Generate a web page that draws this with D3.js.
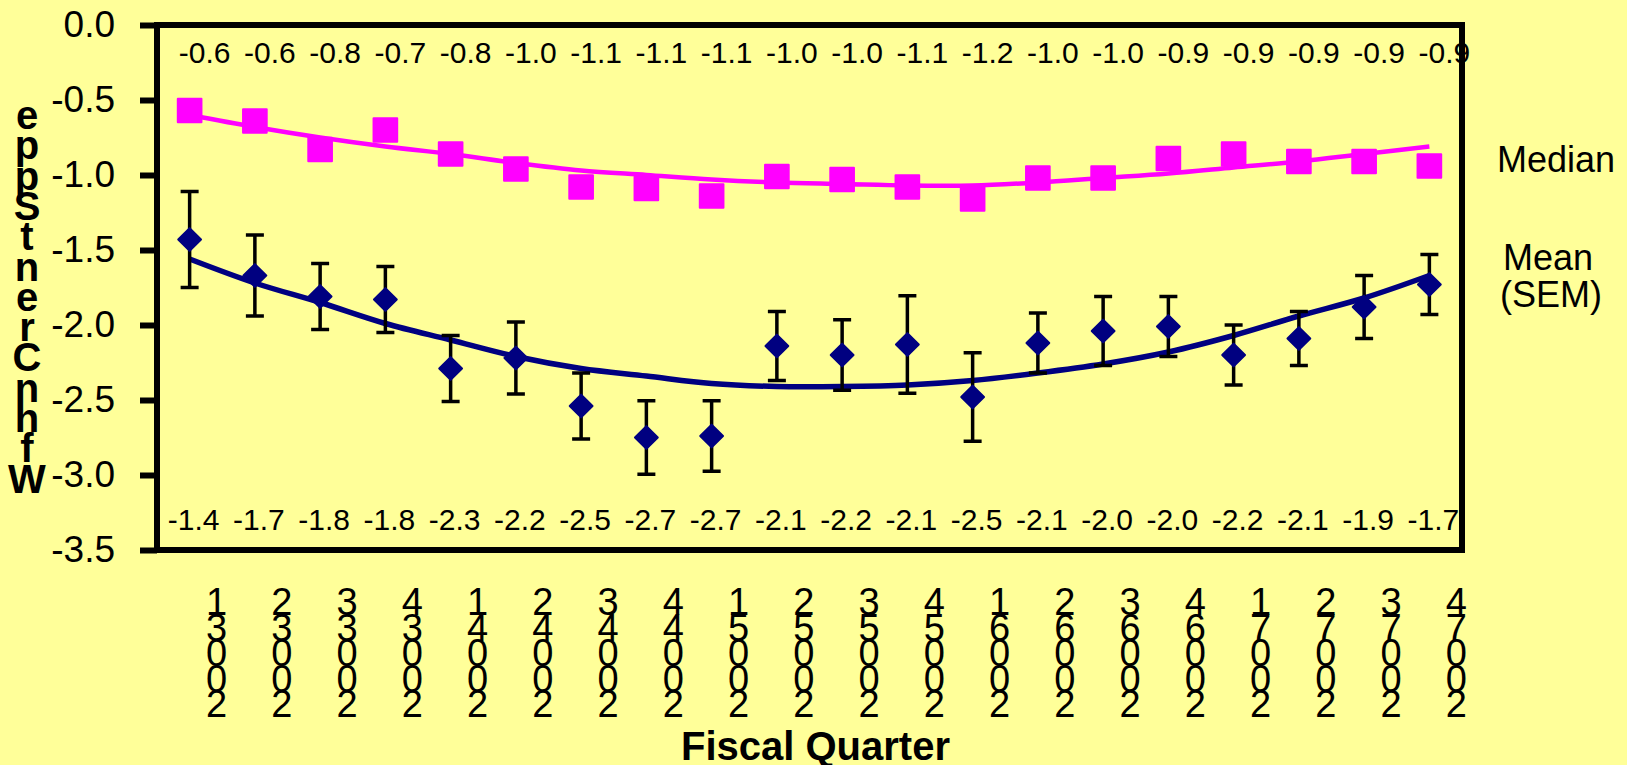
<!DOCTYPE html>
<html>
<head>
<meta charset="utf-8">
<script src="https://cdn.jsdelivr.net/npm/d3@7"></script>
<style>
  html, body { margin: 0; padding: 0; background: #ffff99; }
  svg { display: block; font-family: "Liberation Sans", Arial, sans-serif; }
</style>
</head>
<body>
<div id="chart"></div>
<script>
// stacked x labels, one char per line (as in the original sheet)
var quarterLabels = ["13002", "23002", "33002", "43002", "14002", "24002", "34002", "44002",
                     "15002", "25002", "35002", "45002", "16002", "26002", "36002", "46002",
                     "17002", "27002", "37002", "47002"];

var medianVals = [-0.57, -0.64, -0.83, -0.70, -0.86, -0.96, -1.08, -1.09, -1.14, -1.01,
                  -1.03, -1.08, -1.16, -1.02, -1.02, -0.89, -0.86, -0.91, -0.91, -0.94];
var medianLabels = ["-0.6", "-0.6", "-0.8", "-0.7", "-0.8", "-1.0", "-1.1", "-1.1", "-1.1", "-1.0",
                    "-1.0", "-1.1", "-1.2", "-1.0", "-1.0", "-0.9", "-0.9", "-0.9", "-0.9", "-0.9"];
var medianTrend = [-0.60, -0.68, -0.75, -0.81, -0.86, -0.92, -0.97, -1.00, -1.03, -1.05,
                   -1.06, -1.07, -1.07, -1.05, -1.02, -0.99, -0.95, -0.91, -0.86, -0.81];

var meanVals = [-1.43, -1.67, -1.81, -1.83, -2.29, -2.22, -2.54, -2.75, -2.74, -2.14,
                -2.20, -2.13, -2.48, -2.12, -2.04, -2.01, -2.20, -2.09, -1.88, -1.73];
var meanSem = [0.32, 0.27, 0.22, 0.22, 0.22, 0.24, 0.22, 0.245, 0.235, 0.23,
               0.235, 0.325, 0.295, 0.20, 0.23, 0.20, 0.20, 0.18, 0.21, 0.20];
var meanLabels = ["-1.4", "-1.7", "-1.8", "-1.8", "-2.3", "-2.2", "-2.5", "-2.7", "-2.7", "-2.1",
                  "-2.2", "-2.1", "-2.5", "-2.1", "-2.0", "-2.0", "-2.2", "-2.1", "-1.9", "-1.7"];
var meanTrend = [-1.56, -1.72, -1.85, -1.99, -2.10, -2.21, -2.29, -2.34, -2.39, -2.41,
                 -2.41, -2.40, -2.37, -2.32, -2.26, -2.18, -2.07, -1.94, -1.82, -1.67];

var yTicks = [0, -0.5, -1, -1.5, -2, -2.5, -3, -3.5];
var yTitle = ["e", "p", "p", "S", "t", "n", "e", "r", "C", "n", "h", "f", "W"];

function renderChart(el) {
  var W = 1627, H = 765;
  var margin = {top: 25, right: 165, bottom: 215, left: 157},
      width = W - margin.left - margin.right,
      height = H - margin.top - margin.bottom;

  var svg = d3.select(el).append("svg")
      .attr("width", W)
      .attr("height", H);

  svg.append("rect")
      .attr("width", W).attr("height", H)
      .attr("fill", "#ffff99");

  var g = svg.append("g")
      .attr("transform", "translate(" + margin.left + "," + margin.top + ")");

  var x = d3.scaleBand()
      .domain(d3.range(quarterLabels.length))
      .range([0, width])
      .padding(0);
  var y = d3.scaleLinear()
      .domain([-3.5, 0])
      .range([height, 0]);

  function cx(i) { return x(i) + x.bandwidth() / 2; }

  // y axis ticks
  var yAxis = g.append("g")
      .call(d3.axisLeft(y)
        .tickValues(yTicks)
        .tickSize(17)
        .tickPadding(25)
        .tickFormat(function(d) { return d.toFixed(1); }));
  yAxis.select(".domain").remove();
  yAxis.selectAll(".tick line").attr("stroke", "#000").attr("stroke-width", 6);
  yAxis.selectAll(".tick text")
      .attr("fill", "#000")
      .style("font-size", "37px")
      .style("font-family", "'Liberation Sans', Arial, sans-serif");

  // x labels, stacked characters
  var xl = g.selectAll(".xlab")
      .data(quarterLabels)
    .enter().append("g")
      .attr("class", "xlab")
      .attr("transform", function(d, i) { return "translate(" + (cx(i) + 27) + "," + (height + 65) + ")"; });
  xl.selectAll("text")
      .data(function(d) { return d.split(""); })
    .enter().append("text")
      .attr("y", function(d, j) { return j * 25.5; })
      .attr("text-anchor", "middle")
      .style("font-size", "38px")
      .text(function(d) { return d; });

  // trend lines
  var line = d3.line()
      .x(function(d, i) { return cx(i); })
      .y(function(d) { return y(d); })
      .curve(d3.curveCatmullRom);

  g.append("path")
      .datum(medianTrend)
      .attr("fill", "none")
      .attr("stroke", "#ff00ff")
      .attr("stroke-width", 4.5)
      .attr("d", line);

  g.append("path")
      .datum(meanTrend)
      .attr("fill", "none")
      .attr("stroke", "#000080")
      .attr("stroke-width", 5.5)
      .attr("d", line);

  // error bars (SEM)
  var eb = g.selectAll(".err")
      .data(meanVals)
    .enter().append("g")
      .attr("class", "err")
      .attr("stroke", "#000")
      .attr("stroke-width", 3.5);
  eb.append("line")
      .attr("x1", function(d, i) { return cx(i); })
      .attr("x2", function(d, i) { return cx(i); })
      .attr("y1", function(d, i) { return y(d + meanSem[i]); })
      .attr("y2", function(d, i) { return y(d - meanSem[i]); });
  eb.append("line")
      .attr("x1", function(d, i) { return cx(i) - 9; })
      .attr("x2", function(d, i) { return cx(i) + 9; })
      .attr("y1", function(d, i) { return y(d + meanSem[i]); })
      .attr("y2", function(d, i) { return y(d + meanSem[i]); });
  eb.append("line")
      .attr("x1", function(d, i) { return cx(i) - 9; })
      .attr("x2", function(d, i) { return cx(i) + 9; })
      .attr("y1", function(d, i) { return y(d - meanSem[i]); })
      .attr("y2", function(d, i) { return y(d - meanSem[i]); });

  // markers
  var sq = d3.symbol().type(d3.symbolSquare);
  g.selectAll(".med")
      .data(medianVals)
    .enter().append("path")
      .attr("class", "med")
      .attr("d", sq.size(560))
      .attr("transform", function(d, i) { return "translate(" + cx(i) + "," + y(d) + ")"; })
      .attr("fill", "#ff00ff")
      .attr("stroke", "#ff00ff")
      .attr("stroke-width", 2)
      .attr("stroke-linejoin", "round");

  g.selectAll(".mean")
      .data(meanVals)
    .enter().append("path")
      .attr("class", "mean")
      .attr("d", sq.size(260))
      .attr("transform", function(d, i) { return "translate(" + cx(i) + "," + y(d) + ") rotate(45)"; })
      .attr("fill", "#000080")
      .attr("stroke", "#000080")
      .attr("stroke-width", 2)
      .attr("stroke-linejoin", "round");

  // value labels
  g.selectAll(".medlab")
      .data(medianLabels)
    .enter().append("text")
      .attr("class", "medlab")
      .attr("x", function(d, i) { return cx(i) + 15; })
      .attr("y", 38)
      .attr("text-anchor", "middle")
      .style("font-size", "30px")
      .text(function(d) { return d; });

  g.selectAll(".meanlab")
      .data(meanLabels)
    .enter().append("text")
      .attr("class", "meanlab")
      .attr("x", function(d, i) { return cx(i) + 4; })
      .attr("y", height - 20)
      .attr("text-anchor", "middle")
      .style("font-size", "30px")
      .text(function(d) { return d; });

  // plot frame
  g.append("rect")
      .attr("width", width)
      .attr("height", height)
      .attr("fill", "none")
      .attr("stroke", "#000")
      .attr("stroke-width", 6);

  // series names on the right
  var lg = svg.append("g").style("font-size", "36px").attr("text-anchor", "middle");
  lg.append("text").attr("x", 1556).attr("y", 172).text("Median");
  lg.append("text").attr("x", 1548).attr("y", 270).text("Mean");
  lg.append("text").attr("x", 1551).attr("y", 307).text("(SEM)");

  // axis titles
  svg.append("text")
      .attr("x", margin.left + width / 2 + 6)
      .attr("y", 760)
      .attr("text-anchor", "middle")
      .style("font-size", "40px")
      .style("font-weight", "bold")
      .text("Fiscal Quarter");

  svg.append("g")
    .selectAll("text")
      .data(yTitle)
    .enter().append("text")
      .attr("x", 27)
      .attr("y", function(d, i) { return 129 + i * 30.3; })
      .attr("text-anchor", "middle")
      .style("font-size", "40px")
      .style("font-weight", "bold")
      .text(function(d) { return d; });
}

renderChart("#chart");
</script>
</body>
</html>
